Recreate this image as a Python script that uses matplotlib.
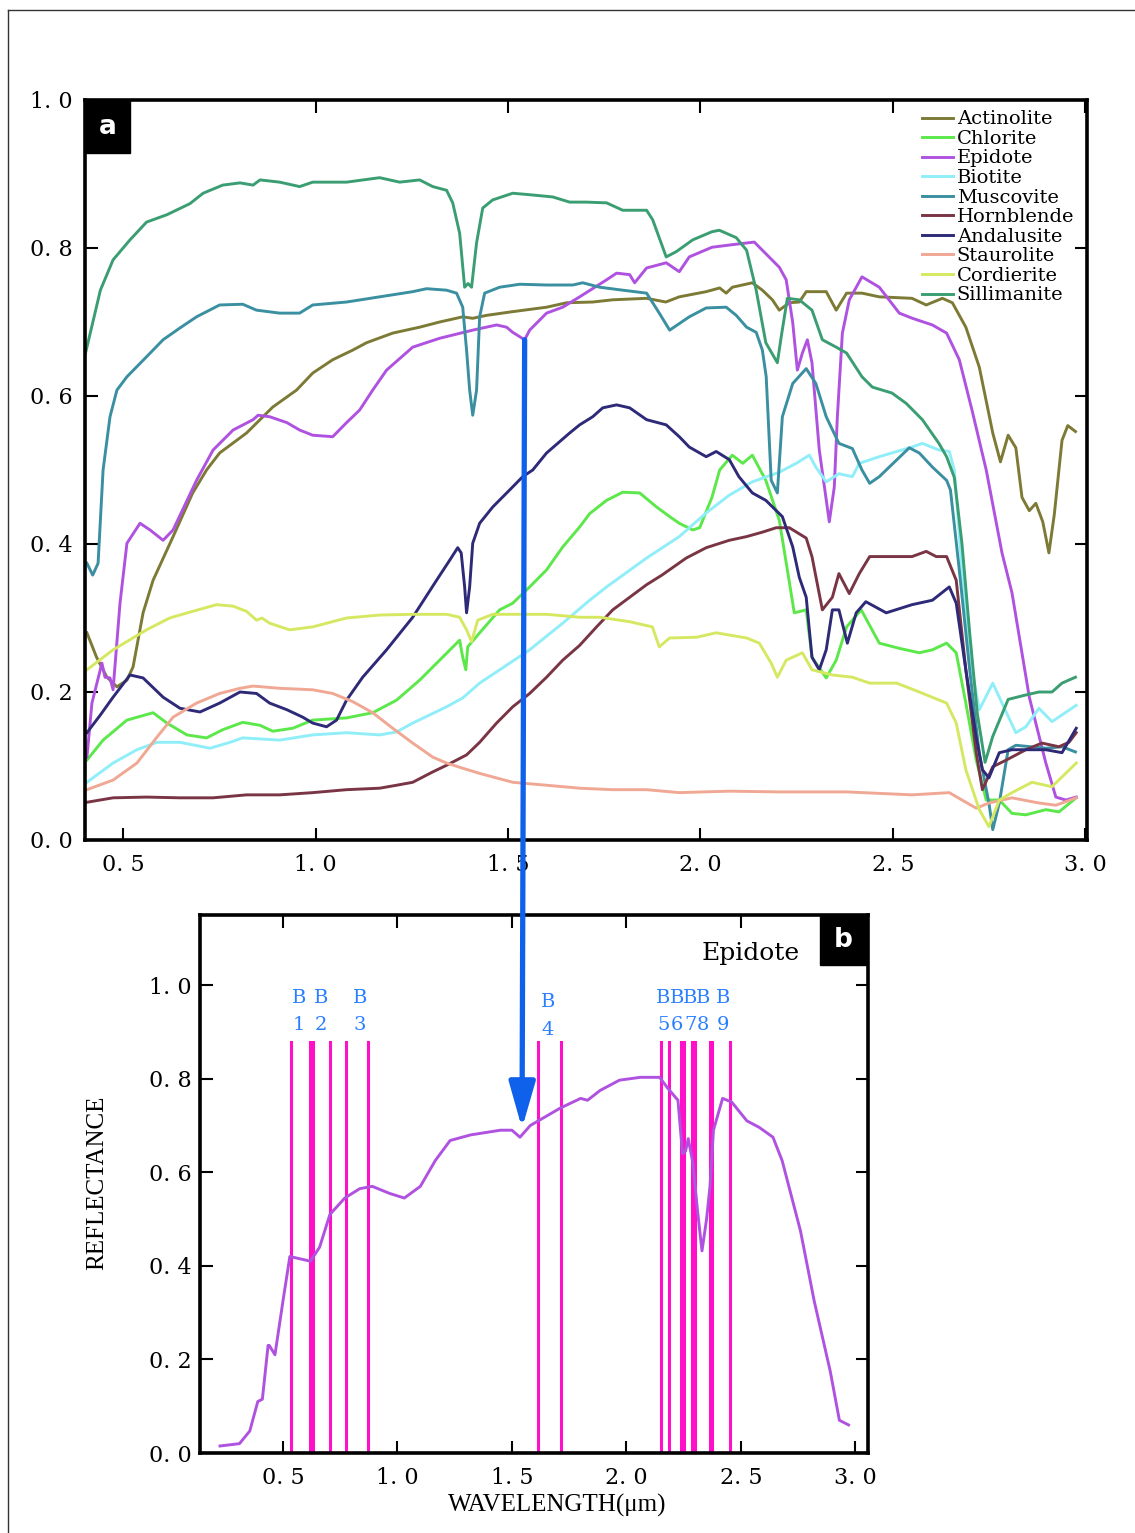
import numpy as np
import matplotlib
matplotlib.use("Agg")
import matplotlib.pyplot as plt
from matplotlib.patches import Rectangle, ConnectionPatch
from matplotlib.lines import Line2D
from matplotlib.ticker import FuncFormatter

plt.rcParams['font.family'] = ['DejaVu Serif']

# ---- spectra: (wavelength um, reflectance) ----
actinolite = [(0.405, 0.28), (0.43, 0.247), (0.457, 0.22), (0.483, 0.207), (0.509, 0.216), (0.525, 0.234),
              (0.551, 0.307), (0.577, 0.351), (0.629, 0.41), (0.68, 0.469), (0.716, 0.50), (0.75, 0.523),
              (0.82, 0.55), (0.855, 0.568), (0.888, 0.585), (0.95, 0.608), (0.992, 0.631), (1.044, 0.649),
              (1.096, 0.662), (1.132, 0.672), (1.2, 0.685), (1.27, 0.693), (1.322, 0.70), (1.382, 0.707),
              (1.408, 0.705), (1.444, 0.709), (1.512, 0.714), (1.60, 0.72), (1.652, 0.726), (1.72, 0.727),
              (1.772, 0.73), (1.86, 0.732), (1.91, 0.727), (1.945, 0.734), (2.015, 0.741), (2.05, 0.746),
              (2.067, 0.739), (2.083, 0.747), (2.135, 0.753), (2.161, 0.743), (2.187, 0.73), (2.205, 0.716),
              (2.231, 0.726), (2.257, 0.727), (2.275, 0.741), (2.327, 0.741), (2.353, 0.716), (2.38, 0.739),
              (2.42, 0.739), (2.465, 0.734), (2.55, 0.732), (2.587, 0.723), (2.629, 0.732), (2.655, 0.726),
              (2.69, 0.693), (2.725, 0.639), (2.76, 0.55), (2.78, 0.511), (2.80, 0.547), (2.82, 0.53),
              (2.836, 0.463), (2.855, 0.445), (2.872, 0.455), (2.89, 0.43), (2.906, 0.388), (2.92, 0.44),
              (2.94, 0.54), (2.955, 0.56), (2.975, 0.552)]

chlorite = [(0.405, 0.108), (0.447, 0.135), (0.509, 0.162), (0.577, 0.172), (0.613, 0.158), (0.665, 0.142),
            (0.716, 0.138), (0.758, 0.149), (0.81, 0.159), (0.855, 0.155), (0.888, 0.147), (0.94, 0.151),
            (0.992, 0.162), (1.08, 0.165), (1.148, 0.172), (1.21, 0.189), (1.27, 0.216), (1.322, 0.243),
            (1.374, 0.27), (1.382, 0.247), (1.39, 0.23), (1.395, 0.261), (1.426, 0.28), (1.478, 0.311),
            (1.512, 0.32), (1.556, 0.342), (1.60, 0.365), (1.642, 0.396), (1.686, 0.423), (1.712, 0.441),
            (1.756, 0.459), (1.798, 0.47), (1.842, 0.469), (1.886, 0.45), (1.92, 0.437), (1.945, 0.428),
            (1.98, 0.419), (1.998, 0.422), (2.03, 0.463), (2.05, 0.50), (2.083, 0.52), (2.11, 0.509),
            (2.135, 0.52), (2.17, 0.486), (2.205, 0.432), (2.226, 0.365), (2.244, 0.307), (2.275, 0.311),
            (2.29, 0.247), (2.327, 0.219), (2.353, 0.243), (2.38, 0.288), (2.418, 0.311), (2.465, 0.266),
            (2.517, 0.259), (2.569, 0.253), (2.603, 0.257), (2.64, 0.266), (2.665, 0.253), (2.69, 0.185),
            (2.717, 0.108), (2.743, 0.054), (2.777, 0.054), (2.81, 0.036), (2.846, 0.034), (2.898, 0.041),
            (2.932, 0.038), (2.977, 0.057)]

epidote = [(0.405, 0.112), (0.418, 0.185), (0.444, 0.239), (0.452, 0.22), (0.465, 0.219), (0.473, 0.203),
           (0.491, 0.32), (0.509, 0.401), (0.543, 0.428), (0.569, 0.419), (0.603, 0.405), (0.629, 0.419),
           (0.69, 0.486), (0.733, 0.527), (0.785, 0.554), (0.837, 0.568), (0.85, 0.574), (0.88, 0.572),
           (0.925, 0.564), (0.958, 0.554), (0.992, 0.547), (1.044, 0.545), (1.08, 0.564), (1.114, 0.581),
           (1.148, 0.608), (1.184, 0.635), (1.252, 0.666), (1.322, 0.678), (1.408, 0.689), (1.47, 0.696),
           (1.496, 0.693), (1.512, 0.686), (1.543, 0.676), (1.556, 0.689), (1.60, 0.712), (1.642, 0.72),
           (1.686, 0.734), (1.756, 0.757), (1.782, 0.766), (1.816, 0.764), (1.829, 0.753), (1.86, 0.773),
           (1.911, 0.78), (1.945, 0.768), (1.971, 0.788), (2.03, 0.801), (2.075, 0.804), (2.14, 0.808),
           (2.161, 0.797), (2.205, 0.774), (2.223, 0.757), (2.24, 0.699), (2.252, 0.635), (2.265, 0.658),
           (2.278, 0.676), (2.29, 0.645), (2.309, 0.527), (2.335, 0.43), (2.348, 0.477), (2.356, 0.572),
           (2.369, 0.685), (2.387, 0.73), (2.42, 0.761), (2.465, 0.747), (2.517, 0.712), (2.551, 0.705),
           (2.603, 0.696), (2.64, 0.685), (2.673, 0.649), (2.706, 0.581), (2.743, 0.50), (2.784, 0.388),
           (2.81, 0.334), (2.855, 0.193), (2.898, 0.104), (2.924, 0.058), (2.95, 0.054), (2.977, 0.058)]

biotite = [(0.405, 0.078), (0.473, 0.104), (0.535, 0.122), (0.587, 0.132), (0.647, 0.132), (0.725, 0.124),
           (0.777, 0.132), (0.81, 0.138), (0.906, 0.135), (0.992, 0.142), (1.08, 0.145), (1.166, 0.142),
           (1.21, 0.146), (1.252, 0.158), (1.34, 0.18), (1.382, 0.192), (1.426, 0.212), (1.478, 0.23),
           (1.556, 0.257), (1.642, 0.293), (1.712, 0.324), (1.756, 0.342), (1.86, 0.381), (1.945, 0.41),
           (2.015, 0.442), (2.075, 0.466), (2.135, 0.484), (2.205, 0.497), (2.249, 0.509), (2.283, 0.52),
           (2.30, 0.504), (2.327, 0.484), (2.36, 0.495), (2.395, 0.491), (2.413, 0.509), (2.465, 0.518),
           (2.55, 0.531), (2.577, 0.536), (2.62, 0.527), (2.647, 0.525), (2.66, 0.50), (2.68, 0.365),
           (2.706, 0.23), (2.725, 0.176), (2.76, 0.212), (2.784, 0.185), (2.82, 0.145), (2.846, 0.153),
           (2.88, 0.178), (2.914, 0.16), (2.977, 0.182)]

muscovite = [(0.405, 0.374), (0.42, 0.358), (0.434, 0.374), (0.447, 0.50), (0.465, 0.572), (0.483, 0.608),
             (0.509, 0.626), (0.56, 0.653), (0.603, 0.676), (0.647, 0.692), (0.69, 0.707), (0.75, 0.723),
             (0.81, 0.724), (0.846, 0.716), (0.906, 0.712), (0.958, 0.712), (0.992, 0.723), (1.08, 0.727),
             (1.166, 0.734), (1.252, 0.741), (1.288, 0.745), (1.34, 0.743), (1.366, 0.739), (1.382, 0.72),
             (1.392, 0.662), (1.40, 0.608), (1.408, 0.574), (1.418, 0.608), (1.426, 0.707), (1.439, 0.739),
             (1.478, 0.747), (1.53, 0.751), (1.60, 0.75), (1.668, 0.75), (1.694, 0.753), (1.738, 0.747),
             (1.798, 0.743), (1.86, 0.739), (1.893, 0.712), (1.92, 0.689), (1.971, 0.707), (2.015, 0.719),
             (2.067, 0.72), (2.093, 0.709), (2.12, 0.693), (2.145, 0.686), (2.161, 0.662), (2.171, 0.626),
             (2.184, 0.486), (2.2, 0.469), (2.213, 0.572), (2.24, 0.617), (2.275, 0.637), (2.30, 0.617),
             (2.327, 0.572), (2.36, 0.536), (2.395, 0.529), (2.42, 0.50), (2.44, 0.482), (2.465, 0.491),
             (2.543, 0.53), (2.569, 0.523), (2.603, 0.504), (2.64, 0.486), (2.65, 0.473), (2.673, 0.365),
             (2.70, 0.23), (2.725, 0.117), (2.75, 0.05), (2.76, 0.014), (2.777, 0.05), (2.80, 0.122),
             (2.82, 0.128), (2.898, 0.124), (2.94, 0.126), (2.975, 0.119)]

hornblende = [(0.405, 0.051), (0.473, 0.057), (0.56, 0.058), (0.647, 0.057), (0.733, 0.057), (0.82, 0.061),
              (0.906, 0.061), (0.992, 0.064), (1.08, 0.068), (1.166, 0.07), (1.21, 0.074), (1.252, 0.078),
              (1.304, 0.092), (1.34, 0.101), (1.392, 0.115), (1.426, 0.132), (1.47, 0.158), (1.512, 0.18),
              (1.556, 0.198), (1.60, 0.22), (1.642, 0.243), (1.686, 0.263), (1.73, 0.288), (1.772, 0.311),
              (1.816, 0.328), (1.86, 0.345), (1.90, 0.358), (1.963, 0.381), (2.015, 0.395), (2.075, 0.405),
              (2.12, 0.41), (2.161, 0.416), (2.197, 0.422), (2.231, 0.422), (2.275, 0.408), (2.29, 0.383),
              (2.317, 0.311), (2.343, 0.328), (2.36, 0.36), (2.387, 0.333), (2.413, 0.36), (2.44, 0.383),
              (2.55, 0.383), (2.587, 0.39), (2.613, 0.383), (2.64, 0.383), (2.665, 0.351), (2.69, 0.23),
              (2.717, 0.118), (2.733, 0.068), (2.76, 0.099), (2.795, 0.108), (2.846, 0.122), (2.888, 0.131),
              (2.932, 0.126), (2.958, 0.132), (2.977, 0.145)]

andalusite = [(0.405, 0.145), (0.44, 0.169), (0.473, 0.193), (0.517, 0.223), (0.551, 0.219), (0.603, 0.193),
              (0.647, 0.178), (0.699, 0.173), (0.75, 0.185), (0.803, 0.20), (0.846, 0.198), (0.88, 0.185),
              (0.925, 0.176), (0.966, 0.166), (0.992, 0.158), (1.028, 0.153), (1.054, 0.162), (1.08, 0.189),
              (1.122, 0.22), (1.184, 0.257), (1.252, 0.301), (1.314, 0.351), (1.348, 0.378), (1.369, 0.395),
              (1.378, 0.388), (1.387, 0.342), (1.392, 0.307), (1.40, 0.342), (1.408, 0.401), (1.426, 0.428),
              (1.46, 0.45), (1.504, 0.473), (1.538, 0.491), (1.564, 0.50), (1.60, 0.523), (1.66, 0.55),
              (1.686, 0.561), (1.72, 0.572), (1.746, 0.584), (1.782, 0.588), (1.816, 0.584), (1.86, 0.568),
              (1.911, 0.561), (1.945, 0.545), (1.971, 0.531), (2.015, 0.518), (2.041, 0.525), (2.075, 0.514),
              (2.10, 0.491), (2.135, 0.469), (2.17, 0.459), (2.213, 0.437), (2.24, 0.396), (2.257, 0.355),
              (2.275, 0.328), (2.29, 0.247), (2.309, 0.23), (2.327, 0.257), (2.343, 0.311), (2.36, 0.311),
              (2.382, 0.266), (2.405, 0.307), (2.43, 0.322), (2.483, 0.307), (2.55, 0.318), (2.603, 0.324),
              (2.647, 0.342), (2.665, 0.32), (2.69, 0.23), (2.717, 0.139), (2.733, 0.095), (2.75, 0.084),
              (2.777, 0.118), (2.81, 0.122), (2.898, 0.122), (2.94, 0.118), (2.977, 0.151)]

staurolite = [(0.405, 0.068), (0.473, 0.081), (0.535, 0.104), (0.587, 0.139), (0.629, 0.166), (0.69, 0.185),
              (0.75, 0.198), (0.803, 0.205), (0.837, 0.208), (0.906, 0.205), (0.992, 0.203), (1.044, 0.198),
              (1.096, 0.187), (1.148, 0.172), (1.20, 0.151), (1.252, 0.131), (1.304, 0.112), (1.34, 0.104),
              (1.382, 0.097), (1.426, 0.09), (1.512, 0.078), (1.60, 0.074), (1.686, 0.07), (1.772, 0.068),
              (1.86, 0.068), (1.945, 0.064), (2.075, 0.066), (2.205, 0.065), (2.38, 0.065), (2.55, 0.061),
              (2.647, 0.064), (2.68, 0.054), (2.717, 0.043), (2.75, 0.05), (2.81, 0.057), (2.88, 0.05),
              (2.924, 0.047), (2.977, 0.057)]

cordierite = [(0.405, 0.23), (0.473, 0.257), (0.56, 0.284), (0.62, 0.30), (0.68, 0.309), (0.742, 0.318),
              (0.785, 0.316), (0.82, 0.309), (0.846, 0.297), (0.86, 0.30), (0.88, 0.293), (0.932, 0.284),
              (0.992, 0.288), (1.08, 0.30), (1.166, 0.304), (1.252, 0.305), (1.34, 0.305), (1.374, 0.301),
              (1.392, 0.284), (1.405, 0.268), (1.421, 0.297), (1.46, 0.305), (1.60, 0.305), (1.686, 0.301),
              (1.738, 0.301), (1.816, 0.295), (1.875, 0.288), (1.893, 0.261), (1.92, 0.273), (1.99, 0.274),
              (2.041, 0.28), (2.12, 0.273), (2.153, 0.266), (2.184, 0.239), (2.20, 0.22), (2.223, 0.243),
              (2.265, 0.253), (2.29, 0.23), (2.343, 0.223), (2.395, 0.22), (2.44, 0.212), (2.51, 0.212),
              (2.569, 0.20), (2.64, 0.185), (2.665, 0.158), (2.69, 0.095), (2.725, 0.041), (2.75, 0.018),
              (2.777, 0.054), (2.81, 0.064), (2.862, 0.078), (2.914, 0.072), (2.977, 0.104)]

sillimanite = [(0.4, 0.655), (0.44, 0.743), (0.473, 0.784), (0.517, 0.811), (0.56, 0.835), (0.613, 0.845),
               (0.673, 0.86), (0.707, 0.874), (0.758, 0.885), (0.803, 0.888), (0.837, 0.885), (0.855, 0.892),
               (0.906, 0.889), (0.958, 0.883), (0.992, 0.889), (1.08, 0.889), (1.166, 0.895), (1.218, 0.889),
               (1.27, 0.892), (1.304, 0.883), (1.34, 0.878), (1.356, 0.861), (1.374, 0.82), (1.387, 0.747),
               (1.396, 0.752), (1.405, 0.747), (1.418, 0.807), (1.434, 0.854), (1.46, 0.865), (1.512, 0.874),
               (1.556, 0.872), (1.616, 0.869), (1.66, 0.862), (1.703, 0.862), (1.756, 0.861), (1.798, 0.851),
               (1.86, 0.851), (1.876, 0.838), (1.911, 0.788), (1.937, 0.795), (1.98, 0.811), (2.03, 0.822),
               (2.049, 0.824), (2.093, 0.814), (2.12, 0.797), (2.145, 0.743), (2.17, 0.672), (2.20, 0.645),
               (2.21, 0.68), (2.226, 0.732), (2.257, 0.73), (2.29, 0.716), (2.317, 0.676), (2.353, 0.666),
               (2.38, 0.658), (2.42, 0.626), (2.447, 0.612), (2.498, 0.604), (2.535, 0.59), (2.577, 0.568),
               (2.62, 0.536), (2.64, 0.518), (2.66, 0.49), (2.68, 0.40), (2.70, 0.28), (2.72, 0.17),
               (2.74, 0.105), (2.76, 0.14), (2.80, 0.19), (2.846, 0.196), (2.88, 0.20), (2.914, 0.20),
               (2.94, 0.212), (2.975, 0.22)]

# epidote spectrum as drawn in panel b
epidote_b = [(0.225, 0.015), (0.31, 0.02), (0.355, 0.047), (0.39, 0.11), (0.41, 0.115), (0.435, 0.23),
             (0.44, 0.23), (0.465, 0.21), (0.5, 0.325), (0.53, 0.42), (0.575, 0.415), (0.62, 0.41),
             (0.66, 0.44), (0.705, 0.51), (0.77, 0.545), (0.835, 0.565), (0.89, 0.57), (0.965, 0.555),
             (1.03, 0.545), (1.10, 0.57), (1.165, 0.625), (1.23, 0.668), (1.32, 0.68), (1.45, 0.69),
             (1.50, 0.69), (1.535, 0.675), (1.58, 0.70), (1.71, 0.737), (1.80, 0.758), (1.83, 0.754),
             (1.885, 0.775), (1.97, 0.797), (2.06, 0.803), (2.145, 0.803), (2.18, 0.78), (2.225, 0.754),
             (2.245, 0.64), (2.258, 0.645), (2.27, 0.672), (2.29, 0.62), (2.31, 0.52), (2.33, 0.432),
             (2.35, 0.50), (2.365, 0.57), (2.38, 0.69), (2.42, 0.758), (2.46, 0.75), (2.526, 0.71),
             (2.58, 0.696), (2.64, 0.675), (2.68, 0.625), (2.76, 0.475), (2.82, 0.325), (2.89, 0.175),
             (2.93, 0.07), (2.97, 0.06)]

minerals = ['Actinolite', 'Chlorite', 'Epidote', 'Biotite', 'Muscovite',
            'Hornblende', 'Andalusite', 'Staurolite', 'Cordierite', 'Sillimanite']
spectra = [actinolite, chlorite, epidote, biotite, muscovite,
           hornblende, andalusite, staurolite, cordierite, sillimanite]
colors = ['#7d7a35', '#5ce84a', '#b052e0', '#90eef8', '#3a8fa0',
          '#7a3545', '#2e2a78', '#f0a894', '#d6e862', '#3a9e72']

# band centres (um) marked in panel b
band_lines = [0.534, 0.616, 0.632, 0.706, 0.775, 0.872, 1.612, 1.714,
              2.149, 2.187, 2.240, 2.251, 2.285, 2.299, 2.367, 2.373, 2.452]
band_names = ['1', '2', '3', '4', '5', '6', '7', '8', '9']
band_label_x = [0.570, 0.666, 0.836, 1.657, 2.162, 2.220, 2.278, 2.336, 2.421]

xticks = [0.5, 1.0, 1.5, 2.0, 2.5, 3.0]
yticks = [0.0, 0.2, 0.4, 0.6, 0.8, 1.0]

W, H = 1135, 1533
fig = plt.figure(figsize=(W / 100, H / 100), dpi=100)

fmt = FuncFormatter(lambda v, p: f"{v:.1f}".replace('.', '. '))


def style_axes(ax, xpad, ypad):
    for s in ax.spines.values():
        s.set_linewidth(2.6)
    ax.set_xticks(xticks)
    ax.set_yticks(yticks)
    ax.xaxis.set_major_formatter(fmt)
    ax.yaxis.set_major_formatter(fmt)
    ax.tick_params(direction='in', length=9, width=1.5, top=True, right=True,
                   labelsize=16)
    ax.tick_params(axis='x', pad=xpad)
    ax.tick_params(axis='y', pad=ypad)


# ---- panel a ----
ax1 = fig.add_axes([85 / W, 1 - 840 / H, 1002 / W, 740 / H])
for name, data, c in zip(minerals, spectra, colors):
    wl, r = np.array(data).T
    ax1.plot(wl, r, color=c, lw=2.1, label=name)
ax1.set_xlim(0.4, 3.005)
ax1.set_ylim(0, 1.0)
style_axes(ax1, 10, 9)
ax1.legend(loc='upper left', bbox_to_anchor=(0.835, 0.986), frameon=False,
           fontsize=14, handlelength=1.6, handletextpad=0.2, labelspacing=0.08,
           borderpad=0, borderaxespad=0)
ax1.add_patch(Rectangle((0, 0.928), 0.045, 0.072, transform=ax1.transAxes,
                        color='black', zorder=6, clip_on=False))
ax1.text(0.0225, 0.964, 'a', transform=ax1.transAxes, color='white', ha='center',
         va='center', fontsize=19, fontweight='bold', family='DejaVu Sans', zorder=7)

# ---- panel b ----
ax2 = fig.add_axes([200 / W, 1 - 1453 / H, 668 / W, 538 / H])
for x in band_lines:
    ax2.plot([x, x], [0, 0.878], color='#ff10c8', lw=2.2, zorder=2)
wl_b, r_b = np.array(epidote_b).T
ax2.plot(wl_b, r_b, color='#b052e0', lw=2.1, zorder=3)
ax2.set_xlim(0.1376, 3.055)
ax2.set_ylim(0, 1.15)
style_axes(ax2, 10, 6)

for n, x in zip(band_names, band_label_x):
    yb, yn = (0.964, 0.904) if n == '4' else (0.972, 0.914)
    ax2.text(x, yb, 'B', color='#2a7fff', fontsize=14, ha='center', va='center')
    ax2.text(x, yn, n, color='#2a7fff', fontsize=14, ha='center', va='center')

ax2.text(0.825, 0.929, 'Epidote', transform=ax2.transAxes, fontsize=18,
         ha='center', va='center')
ax2.add_patch(Rectangle((0.928, 0.907), 0.069, 0.093, transform=ax2.transAxes,
                        color='black', zorder=6, clip_on=False))
ax2.text(0.9625, 0.9535, 'b', transform=ax2.transAxes, color='white', ha='center',
         va='center', fontsize=19, fontweight='bold', family='DejaVu Sans', zorder=7)

fig.text(97 / W, 1 - 1183 / H, 'REFLECTANCE', rotation=90, ha='center', va='center',
         fontsize=18, family='Liberation Serif')
fig.text(557 / W, 1 - 1505 / H, 'WAVELENGTH(μm)', ha='center', va='center',
         fontsize=18, family='Liberation Serif')

# arrow from the epidote feature in panel a down to panel b
con = ConnectionPatch(xyA=(1.543, 0.676), coordsA=ax1.transData,
                      xyB=(1.544, 0.694), coordsB=ax2.transData,
                      arrowstyle='-|>,head_length=1.4,head_width=0.4',
                      mutation_scale=20, color='#0f60ea', lw=3.8,
                      shrinkA=0, shrinkB=0, zorder=10)
fig.add_artist(con)

# outer frame
fig.add_artist(Line2D([8 / W, 1], [1 - 10 / H, 1 - 10 / H], color='#333333', lw=1.0))
fig.add_artist(Line2D([8 / W, 8 / W], [0, 1 - 10 / H], color='#333333', lw=1.0))

fig.savefig('out.png', dpi=100)
